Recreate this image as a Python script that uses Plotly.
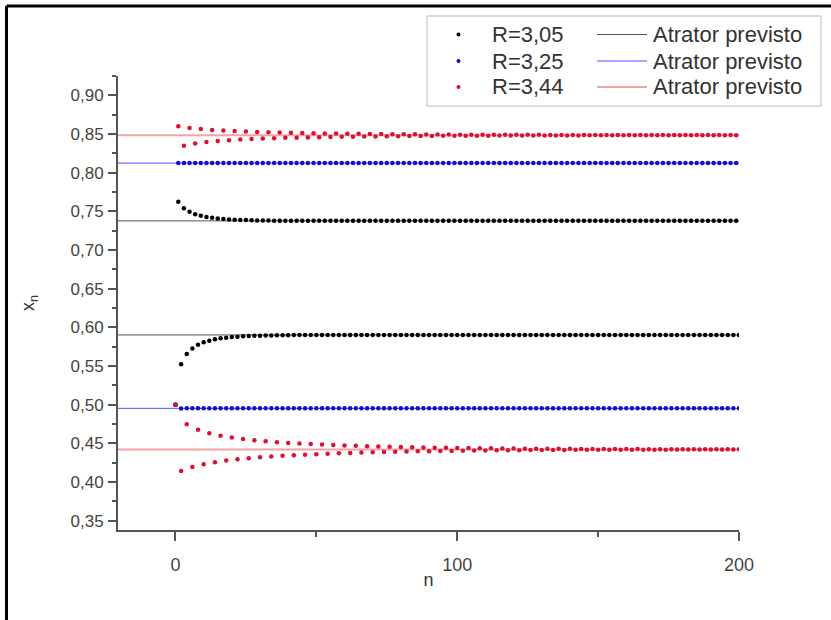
import plotly.graph_objects as go

# ---------------- data ----------------
n_values = list(range(0, 201))

x_r305 = [0.5000, 0.7625, 0.5523, 0.7541, 0.5655, 0.7494, 0.5728, 0.7464, 0.5774, 0.7442,
          0.5806, 0.7427, 0.5828, 0.7416, 0.5845, 0.7407, 0.5858, 0.7401, 0.5867, 0.7396,
          0.5874, 0.7392, 0.5880, 0.7389, 0.5884, 0.7387, 0.5888, 0.7385, 0.5891, 0.7383,
          0.5893, 0.7382, 0.5895, 0.7381, 0.5896, 0.7380, 0.5897, 0.7380, 0.5898, 0.7379,
          0.5899, 0.7378, 0.5900, 0.7378, 0.5900, 0.7378, 0.5901,
          0.7377, 0.5902, 0.7377, 0.5902, 0.7377, 0.5902, 0.7377, 0.5902, 0.7377, 0.5902,
          0.7377, 0.5902, 0.7377, 0.5902, 0.7377, 0.5902, 0.7377, 0.5902, 0.7377, 0.5902,
          0.7377, 0.5902, 0.7377, 0.5902, 0.7377, 0.5902, 0.7377, 0.5902, 0.7377, 0.5902,
          0.7377, 0.5902, 0.7377, 0.5902, 0.7377, 0.5902, 0.7377, 0.5902, 0.7377, 0.5902,
          0.7377, 0.5902, 0.7377, 0.5902, 0.7377, 0.5902, 0.7377, 0.5902, 0.7377, 0.5902,
          0.7377, 0.5902, 0.7377, 0.5902, 0.7377, 0.5902, 0.7377, 0.5902, 0.7377, 0.5902,
          0.7377, 0.5902, 0.7377, 0.5902, 0.7377, 0.5902, 0.7377, 0.5902, 0.7377, 0.5902,
          0.7377, 0.5902, 0.7377, 0.5902, 0.7377, 0.5902, 0.7377, 0.5902, 0.7377, 0.5902,
          0.7377, 0.5902, 0.7377, 0.5902, 0.7377, 0.5902, 0.7377, 0.5902, 0.7377, 0.5902,
          0.7377, 0.5902, 0.7377, 0.5902, 0.7377, 0.5902, 0.7377, 0.5902, 0.7377, 0.5902,
          0.7377, 0.5902, 0.7377, 0.5902, 0.7377, 0.5902, 0.7377, 0.5902, 0.7377, 0.5902,
          0.7377, 0.5902, 0.7377, 0.5902, 0.7377, 0.5902, 0.7377, 0.5902, 0.7377, 0.5902,
          0.7377, 0.5902, 0.7377, 0.5902, 0.7377, 0.5902, 0.7377, 0.5902, 0.7377, 0.5902,
          0.7377, 0.5902, 0.7377, 0.5902, 0.7377, 0.5902, 0.7377, 0.5902, 0.7377, 0.5902,
          0.7377, 0.5902, 0.7377, 0.5902, 0.7377, 0.5902, 0.7377, 0.5902, 0.7377, 0.5902,
          0.7377, 0.5902, 0.7377, 0.5902]

x_r325 = [0.5000, 0.8125, 0.4951,
          0.8124, 0.4953, 0.8124, 0.4953, 0.8124, 0.4953, 0.8124, 0.4953, 0.8124, 0.4953,
          0.8124, 0.4953, 0.8124, 0.4953, 0.8124, 0.4953, 0.8124, 0.4953, 0.8124, 0.4953,
          0.8124, 0.4953, 0.8124, 0.4953, 0.8124, 0.4953, 0.8124, 0.4953, 0.8124, 0.4953,
          0.8124, 0.4953, 0.8124, 0.4953, 0.8124, 0.4953, 0.8124, 0.4953, 0.8124, 0.4953,
          0.8124, 0.4953, 0.8124, 0.4953, 0.8124, 0.4953, 0.8124, 0.4953, 0.8124, 0.4953,
          0.8124, 0.4953, 0.8124, 0.4953, 0.8124, 0.4953, 0.8124, 0.4953, 0.8124, 0.4953,
          0.8124, 0.4953, 0.8124, 0.4953, 0.8124, 0.4953, 0.8124, 0.4953, 0.8124, 0.4953,
          0.8124, 0.4953, 0.8124, 0.4953, 0.8124, 0.4953, 0.8124, 0.4953, 0.8124, 0.4953,
          0.8124, 0.4953, 0.8124, 0.4953, 0.8124, 0.4953, 0.8124, 0.4953, 0.8124, 0.4953,
          0.8124, 0.4953, 0.8124, 0.4953, 0.8124, 0.4953, 0.8124, 0.4953, 0.8124, 0.4953,
          0.8124, 0.4953, 0.8124, 0.4953, 0.8124, 0.4953, 0.8124, 0.4953, 0.8124, 0.4953,
          0.8124, 0.4953, 0.8124, 0.4953, 0.8124, 0.4953, 0.8124, 0.4953, 0.8124, 0.4953,
          0.8124, 0.4953, 0.8124, 0.4953, 0.8124, 0.4953, 0.8124, 0.4953, 0.8124, 0.4953,
          0.8124, 0.4953, 0.8124, 0.4953, 0.8124, 0.4953, 0.8124, 0.4953, 0.8124, 0.4953,
          0.8124, 0.4953, 0.8124, 0.4953, 0.8124, 0.4953, 0.8124, 0.4953, 0.8124, 0.4953,
          0.8124, 0.4953, 0.8124, 0.4953, 0.8124, 0.4953, 0.8124, 0.4953, 0.8124, 0.4953,
          0.8124, 0.4953, 0.8124, 0.4953, 0.8124, 0.4953, 0.8124, 0.4953, 0.8124, 0.4953,
          0.8124, 0.4953, 0.8124, 0.4953, 0.8124, 0.4953, 0.8124, 0.4953, 0.8124, 0.4953,
          0.8124, 0.4953, 0.8124, 0.4953, 0.8124, 0.4953, 0.8124, 0.4953, 0.8124, 0.4953,
          0.8124, 0.4953, 0.8124, 0.4953, 0.8124, 0.4953, 0.8124, 0.4953]

x_r344 = [0.5000, 0.8600, 0.4142, 0.8347, 0.4747, 0.8578, 0.4196, 0.8378, 0.4675, 0.8564,
          0.4231, 0.8397, 0.4631, 0.8553, 0.4257, 0.8410, 0.4600, 0.8545, 0.4277, 0.8420,
          0.4576, 0.8538, 0.4294, 0.8428, 0.4557, 0.8532, 0.4308, 0.8435, 0.4541, 0.8527,
          0.4320, 0.8441, 0.4528, 0.8523, 0.4330, 0.8446, 0.4516, 0.8519, 0.4339, 0.8450,
          0.4506, 0.8516, 0.4347, 0.8453, 0.4498, 0.8513, 0.4354, 0.8456, 0.4491, 0.8511,
          0.4361, 0.8459, 0.4484, 0.8508, 0.4366, 0.8461, 0.4478, 0.8506, 0.4372, 0.8463,
          0.4473, 0.8504, 0.4376, 0.8465, 0.4468, 0.8502, 0.4381, 0.8467, 0.4464, 0.8501,
          0.4385, 0.8469, 0.4460, 0.8499, 0.4388, 0.8470, 0.4456, 0.8498, 0.4391, 0.8472,
          0.4453, 0.8497, 0.4394, 0.8473, 0.4450, 0.8496, 0.4397, 0.8474, 0.4447, 0.8495,
          0.4399, 0.8475, 0.4445, 0.8494, 0.4401, 0.8476, 0.4443, 0.8493, 0.4403, 0.8477,
          0.4441, 0.8492, 0.4405, 0.8478, 0.4439, 0.8492, 0.4407, 0.8478, 0.4437, 0.8491,
          0.4408, 0.8479, 0.4436, 0.8490, 0.4410, 0.8480, 0.4435, 0.8490, 0.4411, 0.8480,
          0.4433, 0.8489, 0.4412, 0.8481, 0.4432, 0.8489, 0.4413, 0.8481, 0.4431, 0.8489,
          0.4414, 0.8481, 0.4430, 0.8488, 0.4414, 0.8482, 0.4430, 0.8488, 0.4415, 0.8482,
          0.4429, 0.8488, 0.4416, 0.8482, 0.4428, 0.8487, 0.4416, 0.8483, 0.4428, 0.8487,
          0.4417, 0.8483, 0.4427, 0.8487, 0.4417, 0.8483, 0.4427, 0.8487, 0.4418, 0.8483,
          0.4426, 0.8487, 0.4418, 0.8483, 0.4426, 0.8487, 0.4419, 0.8484, 0.4425, 0.8486,
          0.4419, 0.8484, 0.4425, 0.8486, 0.4419, 0.8484, 0.4425, 0.8486, 0.4420, 0.8484,
          0.4424, 0.8486, 0.4420, 0.8484, 0.4424, 0.8486, 0.4420, 0.8484, 0.4424, 0.8486,
          0.4420, 0.8484, 0.4424, 0.8486, 0.4420, 0.8484, 0.4424, 0.8486, 0.4420, 0.8484,
          0.4423]

for _name, _arr in (("x_r305", x_r305), ("x_r325", x_r325), ("x_r344", x_r344)):
    assert len(_arr) == len(n_values), (_name, len(_arr))

# predicted attractors (period-2 points) per R
attr_r305 = [0.7377, 0.5902]
attr_r325 = [0.8124, 0.4953]
attr_r344 = [0.8485, 0.4422]
attr_line_n = [-20.4, 200]

series_labels = ["R=3,05", "R=3,25", "R=3,44"]
line_label = "Atrator previsto"

x_range = [-20.4, 200]
y_range = [0.338, 0.925]
x_ticks = [0, 100, 200]

# ---------------- styles ----------------
dot_colors = ["#000000", "#1010d0", "#dc1030"]
line_colors = ["#555555", "#5050ff", "#f4a4a8"]
line_widths = [1, 1, 2]
FONT = "Liberation Sans, Arial, sans-serif"

fig = go.Figure()

attrs = [attr_r305, attr_r325, attr_r344]
for i, att in enumerate(attrs):
    for v in att:
        fig.add_trace(go.Scatter(
            x=attr_line_n, y=[v, v], mode="lines",
            line=dict(color=line_colors[i], width=line_widths[i]),
            showlegend=False, hoverinfo="skip"))

for i, ys in enumerate([x_r305, x_r325, x_r344]):
    fig.add_trace(go.Scatter(
        x=n_values, y=ys, mode="markers",
        marker=dict(color=dot_colors[i], size=4.5, line=dict(width=0)),
        name=series_labels[i], showlegend=False))

# ---------------- layout ----------------
L, R, T, B = 118, 92, 76, 90
W, H = 831, 620
pw, ph = W - L - R, H - T - B

def px(xp):
    return (xp - L) / pw

def py(yp):
    return (H - B - yp) / ph

shapes = []
annotations = []

# outer frame (top and left borders)
shapes.append(dict(type="line", xref="paper", yref="paper",
                   x0=px(6.5), x1=px(840), y0=py(6), y1=py(6),
                   line=dict(color="#000", width=3)))
shapes.append(dict(type="line", xref="paper", yref="paper",
                   x0=px(6.5), x1=px(6.5), y0=py(6), y1=py(630),
                   line=dict(color="#000", width=3)))

# legend box
shapes.append(dict(type="rect", xref="paper", yref="paper",
                   x0=px(427), x1=px(821), y0=py(106), y1=py(16),
                   line=dict(color="#bbbbbb", width=1), fillcolor="white"))
row_y = [34.5, 61, 87]
for i in range(3):
    yy = py(row_y[i])
    shapes.append(dict(type="circle", xref="paper", yref="paper",
                       x0=px(456.5), x1=px(460.5), y0=py(row_y[i] + 2), y1=py(row_y[i] - 2),
                       line=dict(width=0), fillcolor=dot_colors[i]))
    shapes.append(dict(type="line", xref="paper", yref="paper",
                       x0=px(597), x1=px(647), y0=yy, y1=yy,
                       line=dict(color=line_colors[i], width=line_widths[i])))
    annotations.append(dict(xref="paper", yref="paper", x=px(490), y=yy,
                            xanchor="left", yanchor="middle", showarrow=False,
                            text=series_labels[i],
                            font=dict(family=FONT, size=22, color="#333")))
    annotations.append(dict(xref="paper", yref="paper", x=px(651), y=yy,
                            xanchor="left", yanchor="middle", showarrow=False,
                            text=line_label,
                            font=dict(family=FONT, size=22, color="#333")))

fig.update_layout(
    width=W, height=H,
    margin=dict(l=L, r=R, t=T, b=B, autoexpand=False),
    paper_bgcolor="white", plot_bgcolor="white",
    separators=",.",
    showlegend=False,
    font=dict(family=FONT, color="#444"),
    shapes=shapes, annotations=annotations,
    xaxis=dict(range=x_range, tickvals=x_ticks, showgrid=False, zeroline=False,
               showline=True, linecolor="#555", linewidth=2,
               ticks="outside", ticklen=9, tickwidth=2, tickcolor="#555",
               tickfont=dict(family=FONT, size=18, color="#444"),
               ticklabelstandoff=8,
               minor=dict(dtick=50, ticks="outside", ticklen=5, tickwidth=2, tickcolor="#555"),
               title=dict(text="n", font=dict(family=FONT, size=18, color="#333"), standoff=0)),
    yaxis=dict(range=y_range, tick0=0.35, dtick=0.05, tickformat=".2f",
               showgrid=False, zeroline=False,
               showline=True, linecolor="#555", linewidth=2,
               ticks="outside", ticklen=8, tickwidth=2, tickcolor="#555",
               tickfont=dict(family=FONT, size=17, color="#444"),
               ticklabelstandoff=1,
               minor=dict(dtick=0.025, tick0=0.35, ticks="outside", ticklen=4, tickwidth=2, tickcolor="#555"),
               title=dict(text="x<sub>n</sub>", font=dict(family=FONT, size=18, color="#333"), standoff=31)),
)

fig.write_html("out.html")
